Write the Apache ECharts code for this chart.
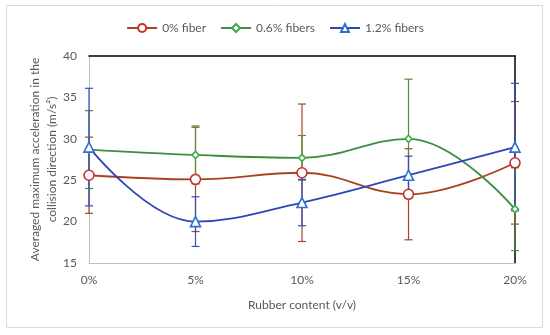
<!DOCTYPE html>
<html>
<head>
<meta charset="utf-8">
<script src="https://cdn.jsdelivr.net/npm/echarts@6/dist/echarts.min.js"></script>
<style>html,body{margin:0;padding:0;background:#fff;}#c{width:550px;height:335px;}</style>
</head>
<body>
<div id="c"></div>
<script>
const categories = ['0%', '5%', '10%', '15%', '20%'];
const seriesNames = ['0% fiber', '0.6% fibers', '1.2% fibers'];
const fiber0 = [25.6, 25.1, 25.9, 23.3, 27.1];
const fiber06 = [28.7, 28.05, 27.7, 30.0, 21.5];
const fiber12 = [29.0, 20.0, 22.3, 25.6, 29.0];
const err0 = [4.6, 6.3, 8.3, 5.5, 7.4];
const err06 = [4.7, 3.5, 2.7, 7.2, 5.0];
const err12 = [7.1, 3.0, 2.8, 2.3, 7.7];
const yTicks = [15, 20, 25, 30, 35, 40];

const FONT = 'Lato';
const lineColors = ['#A8431F', '#3E8E3E', '#2F46B8'];
const markerColors = ['#C8302A', '#3DAA4A', '#2E6FD0'];
const errColors = ['#A0472A', '#5A8A3A', '#3050C0'];
const symbols = ['circle', 'diamond', 'triangle'];
const symbolSizes = [10, 7, 10];

const values = [fiber0, fiber06, fiber12];
const errs = [err0, err06, err12];

const chart = echarts.init(document.getElementById('c'), null, {renderer: 'canvas'});

const series = [];
values.forEach((vals, s) => {
  const errData = vals.map((v, i) => [i, v - errs[s][i], v + errs[s][i]]);
  series.push({
    type: 'custom',
    name: seriesNames[s] + ' err',
    xAxisIndex: 0, yAxisIndex: 0,
    z: 1,
    silent: true,
    data: errData,
    renderItem: function (params, api) {
      const x = api.value(0);
      const lo = api.coord([x, api.value(1)]);
      const hi = api.coord([x, api.value(2)]);
      const w = 4;
      const style = {stroke: errColors[s], lineWidth: 1.2};
      return {
        type: 'group',
        children: [
          {type: 'line', shape: {x1: lo[0], y1: lo[1], x2: hi[0], y2: hi[1]}, style: style},
          {type: 'line', shape: {x1: lo[0] - w, y1: lo[1], x2: lo[0] + w, y2: lo[1]}, style: style},
          {type: 'line', shape: {x1: hi[0] - w, y1: hi[1], x2: hi[0] + w, y2: hi[1]}, style: style}
        ]
      };
    }
  });
});
values.forEach((vals, s) => {
  series.push({
    type: 'line',
    name: seriesNames[s],
    data: vals,
    smooth: 0.4,
    z: 3,
    symbol: symbols[s],
    symbolSize: symbolSizes[s],
    showAllSymbol: true,
    lineStyle: {color: lineColors[s], width: 1.8},
    itemStyle: {color: '#ffffff', borderColor: markerColors[s], borderWidth: 1.6},
    emphasis: {disabled: true}
  });
});

chart.setOption({
  animation: false,
  backgroundColor: '#ffffff',
  textStyle: {fontFamily: FONT},
  graphic: [{
    type: 'rect',
    shape: {x: 6.5, y: 5.5, width: 536, height: 322},
    style: {fill: 'none', stroke: '#D9D9D9', lineWidth: 1},
    z: -10
  }],
  legend: {
    data: seriesNames,
    top: 17,
    left: 'center',
    itemWidth: 30,
    itemHeight: 10,
    itemGap: 14,
    textStyle: {color: '#595959', fontSize: 12, fontFamily: FONT},
    selectedMode: false
  },
  grid: {left: 89, right: 35, top: 56, bottom: 72},
  xAxis: [{
    type: 'category',
    data: categories,
    boundaryGap: false,
    axisLine: {lineStyle: {color: '#BFBFBF', width: 1}},
    axisTick: {show: false},
    axisLabel: {color: '#595959', fontSize: 12, margin: 11, fontFamily: FONT},
    name: 'Rubber content (v/v)',
    nameLocation: 'middle',
    nameGap: 36,
    nameMoveOverlap: false,
    nameTextStyle: {color: '#595959', fontSize: 12, fontFamily: FONT}
  }, {
    type: 'category',
    data: categories,
    boundaryGap: false,
    position: 'top',
    axisLine: {lineStyle: {color: '#000000', width: 1.5}},
    axisTick: {show: false},
    axisLabel: {show: false}
  }],
  yAxis: [{
    type: 'value',
    min: 15, max: 40, interval: 5,
    axisLine: {show: true, lineStyle: {color: '#BFBFBF', width: 1}},
    axisTick: {show: false},
    splitLine: {show: false},
    axisLabel: {color: '#595959', fontSize: 12, margin: 12, fontFamily: FONT,
      formatter: v => yTicks.includes(v) ? String(v) : ''},
    name: 'Averaged maximum acceleration in the\ncollision direction (m/s²)',
    nameLocation: 'middle',
    nameGap: 28,
    nameMoveOverlap: false,
    nameTextStyle: {color: '#595959', fontSize: 12, lineHeight: 17, fontFamily: FONT}
  }, {
    type: 'value',
    min: 15, max: 40, interval: 5,
    position: 'right',
    axisLine: {show: true, lineStyle: {color: '#000000', width: 1.5}},
    axisTick: {show: false},
    splitLine: {show: false},
    axisLabel: {show: false}
  }],
  series: series
});
</script>
</body>
</html>
